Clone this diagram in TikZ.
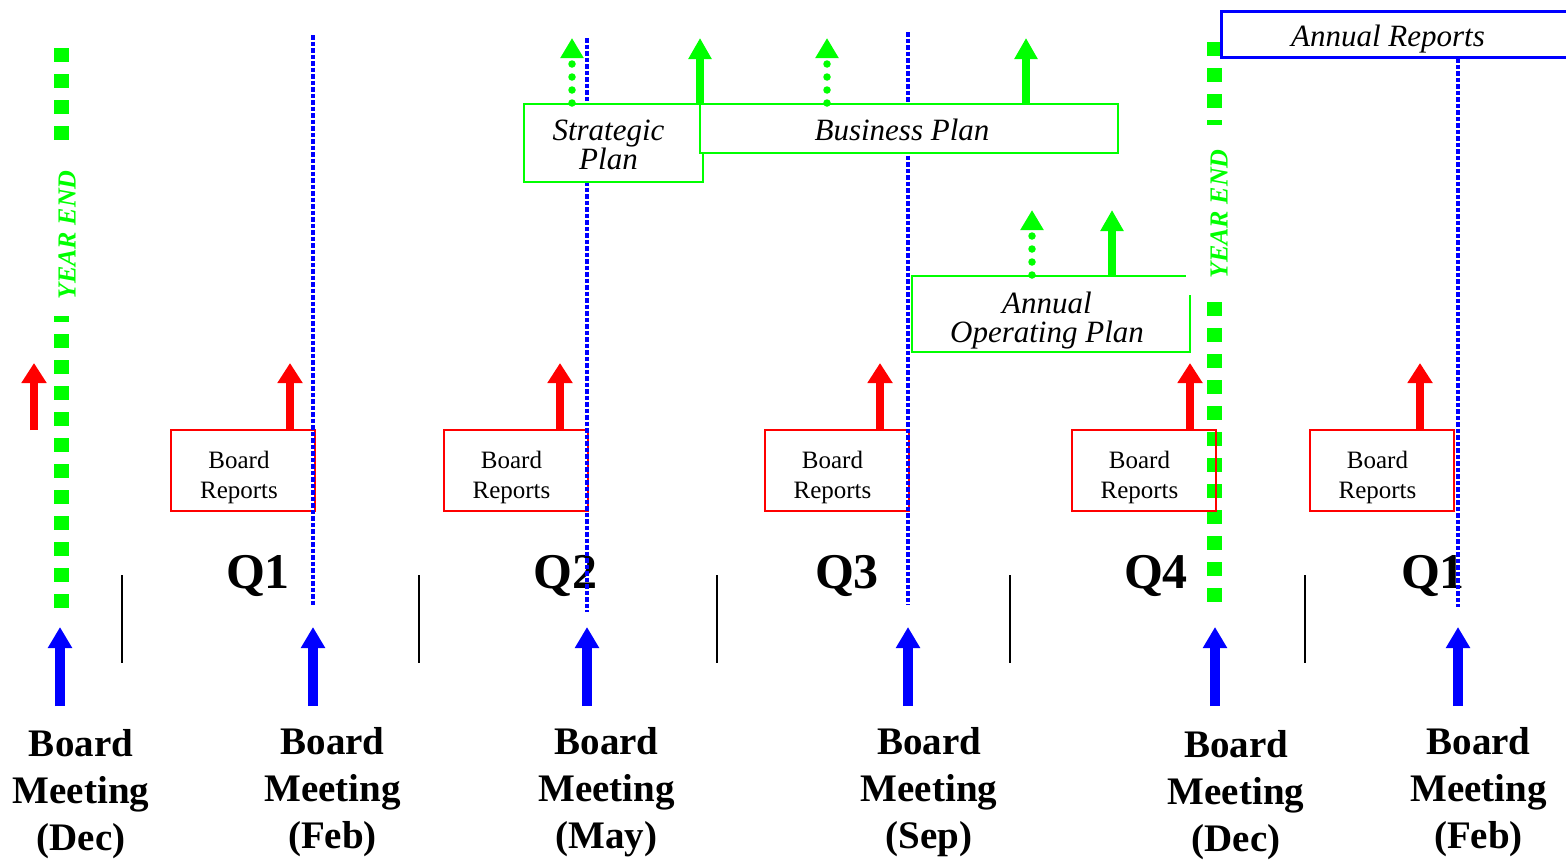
\documentclass[tikz,border=0pt]{standalone}
\usepackage{fontspec}
\setmainfont{Liberation Serif}
\usetikzlibrary{arrows.meta}
\definecolor{ygreen}{RGB}{0,255,0}
\definecolor{pblue}{RGB}{0,0,255}
\definecolor{pred}{RGB}{255,0,0}
\begin{document}
\begin{tikzpicture}[x=1pt,y=-1pt,
  sepline/.style={draw=black,line width=1.6pt},
  meetarrow/.style={draw=pblue,line width=9.5pt,-{Triangle[width=23pt,length=21pt]}},
  rptarrow/.style={draw=pred,line width=8pt,-{Triangle[width=24pt,length=20pt]}},
  planarrow/.style={draw=ygreen,line width=8pt,-{Triangle[width=22pt,length=21pt]}},
  drafarrow/.style={draw=ygreen,line width=7.5pt,line cap=round,dash pattern=on 0pt off 13pt,-{Triangle[width=22pt,length=20pt]}},
  meetline/.style={draw=pblue,line width=4.5pt,dash pattern=on 4.5pt off 2pt},
  yearline/.style={draw=ygreen,line width=15pt,dash pattern=on 14pt off 12pt},
  rptbox/.style={draw=pred,line width=2pt,minimum width=144pt,minimum height=81pt,inner sep=0pt},
  rpttext/.style={inner sep=0pt,align=center,text depth=0pt,font=\fontsize{25}{30}\selectfont},
  planbox/.style={draw=ygreen,line width=2pt,fill=white,inner sep=0pt},
  repbox/.style={draw=pblue,line width=2.5pt,fill=white,inner sep=0pt},
  italtext/.style={inner sep=0pt,align=center,text depth=0pt,font=\fontsize{31}{29}\selectfont\itshape},
  qlabel/.style={anchor=base,inner sep=0pt,font=\fontsize{50}{60}\selectfont\bfseries},
  meetlabel/.style={anchor=north,inner sep=0pt,align=center,font=\fontsize{39}{47}\selectfont\bfseries},
  yearcover/.style={rotate=90,fill=white,inner sep=0pt},
  yearlabel/.style={rotate=90,inner sep=0pt,text=ygreen,font=\fontsize{26}{30}\selectfont\bfseries\itshape}
]
\path[use as bounding box] (0,0) rectangle (1566,860);

% quarter separators
\foreach \x [count=\i] in {122,419,717,1010,1305}{
  \coordinate (st\i) at (\x,575);
  \coordinate (sb\i) at (\x,663);
  \draw[sepline] (st\i) -- (sb\i);
}

% board meeting arrows and labels
\foreach \x/\ty/\txt [count=\i] in {81/729.5/{Board\\Meeting\\(Dec)},332.5/727/{Board\\Meeting\\(Feb)},
    606.5/727/{Board\\Meeting\\(May)},929/727/{Board\\Meeting\\(Sep)},
    1236/730/{Board\\Meeting\\(Dec)},1478.5/727/{Board\\Meeting\\(Feb)}}{
  \node[meetlabel] (bm\i) at (\x,\ty) {\txt};
}
\foreach \x [count=\i] in {60,313,587,908,1215,1458}{
  \coordinate (mb\i) at (\x,706);
  \coordinate (mt\i) at (\x,627);
  \draw[meetarrow] (mb\i) -- (mt\i);
}

% year-end lines
\coordinate (ya1) at (61,48);   \coordinate (yb1) at (61,612);
\coordinate (ya2) at (1214,42); \coordinate (yb2) at (1214,608);
\draw[yearline] (ya1) -- (yb1);
\draw[yearline] (ya2) -- (yb2);

% board reports
\foreach \x [count=\i] in {243,515.5,836.5,1143.5,1381.5}{
  \node[rptbox] (br\i) at (\x,470.5) {};
  \node[rpttext] (bt\i) at ([shift={(-4,4)}]br\i.center) {Board\\Reports};
}
\coordinate (ra0) at (34,430); \coordinate (rt0) at (34,363);
\draw[rptarrow] (ra0) -- (rt0);
\foreach \x [count=\i] in {290,560,880,1190,1420}{
  \coordinate (rt\i) at (\x,363);
  \draw[rptarrow] (br\i.north -| rt\i) -- (rt\i);
}

% quarter labels
\node[qlabel] (q1) at (258,588) {Q1};
\node[qlabel] (q2) at (565.5,588) {Q2};
\node[qlabel] (q3) at (847,588) {Q3};
\node[qlabel] (q4) at (1156,588) {Q4};
\node[qlabel] (q5) at (1433,588) {Q1};

% board meeting dates (dotted)
\foreach \x/\a/\b [count=\i] in {313/35/607,587/38/612,908/32/605,1458/58/607}{
  \coordinate (la\i) at (\x,\a);
  \coordinate (lb\i) at (\x,\b);
  \draw[meetline] (la\i) -- (lb\i);
}

% annual operating plan
\node[planbox,minimum width=278pt,minimum height=76pt] (aop) at (1051,314) {};
\node[italtext] (aoptext) at ([shift={(-4,3)}]aop.center) {Annual\\Operating Plan};

% year-end labels
\node[yearcover,minimum width=176pt,minimum height=32pt] (yc1) at (67,228) {};
\node[yearlabel] (ye1) at (67,235) {YEAR END};
\node[yearcover,minimum width=170pt,minimum height=66pt] (yc2) at (1219,210) {};
\node[yearlabel] (ye2) at (1219,214) {YEAR END};

% strategic and business plans
\node[planbox,minimum width=179pt,minimum height=78pt] (sp) at (613.5,143) {};
\node[italtext] (sptext) at ([shift={(-5,2)}]sp.center) {Strategic\\Plan};
\node[planbox,minimum width=418pt,minimum height=49pt] (bp) at (909,128.5) {};
\node[italtext] (bptext) at ([shift={(-7,1.5)}]bp.center) {Business Plan};

\coordinate (gt1) at (572,38);  \draw[drafarrow] (sp.north -| gt1) -- (gt1);
\coordinate (gt2) at (700,38);  \draw[planarrow] (bp.north -| gt2) -- (gt2);
\coordinate (gt3) at (827,38);  \draw[drafarrow] (bp.north -| gt3) -- (gt3);
\coordinate (gt4) at (1026,38); \draw[planarrow] (bp.north -| gt4) -- (gt4);
\coordinate (gt5) at (1032,210); \draw[drafarrow] (aop.north -| gt5) -- (gt5);
\coordinate (gt6) at (1112,210); \draw[planarrow] (aop.north -| gt6) -- (gt6);

% annual reports
\node[repbox,anchor=north west,minimum width=370pt,minimum height=46pt] (ar) at (1220,10) {};
\node[italtext] (artext) at (1388,36) {Annual Reports};
\end{tikzpicture}
\end{document}
